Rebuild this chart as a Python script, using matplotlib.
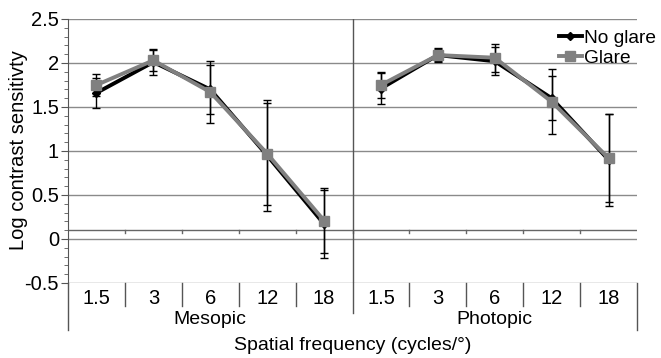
import matplotlib
matplotlib.use("Agg")
import matplotlib.pyplot as plt
from matplotlib.lines import Line2D
import numpy as np

plt.rcParams['font.family'] = ['Liberation Sans', 'DejaVu Sans']

freqs = ["1.5", "3", "6", "12", "18"]
groups = ["Mesopic", "Photopic"]

# values per group (Mesopic, Photopic)
no_glare = [[1.66, 2.01, 1.70, 0.95, 0.17],
            [1.71, 2.09, 2.02, 1.60, 0.90]]
no_glare_err = [[0.17, 0.15, 0.28, 0.63, 0.39],
                [0.18, 0.08, 0.16, 0.25, 0.52]]
glare = [[1.75, 2.03, 1.67, 0.97, 0.21],
         [1.75, 2.09, 2.06, 1.56, 0.92]]
glare_err = [[0.13, 0.12, 0.35, 0.58, 0.37],
             [0.15, 0.07, 0.16, 0.37, 0.50]]

W, H = 661, 358
fig = plt.figure(figsize=(W / 100, H / 100), dpi=100)
L, R, T, B = 68, 637, 19, 283
ax = fig.add_axes([L / W, 1 - B / H, (R - L) / W, (B - T) / H])

n = len(freqs)
ncat = n * len(groups)
ax.set_xlim(0, ncat)
ax.set_ylim(-0.5, 2.5)

gridc = '#8a8a8a'
for yv in np.arange(-0.5, 2.51, 0.5):
    ax.axhline(yv, color=gridc, lw=1.0, zorder=1)
# category axis line crossing at 0.1
ax.axhline(0.1, color='#666666', lw=1.0, zorder=1)
for k in range(1, ncat):
    ax.plot([k, k], [0.1, 0.1 - 0.035], color='#666666', lw=1.0, zorder=1)

# group divider
ax.plot([n, n], [0, 1], transform=ax.get_xaxis_transform(), color='#555555', lw=1.0,
        zorder=1)

for g in range(len(groups)):
    xs = np.arange(n) + g * n + 0.5
    ax.errorbar(xs, no_glare[g], yerr=no_glare_err[g], fmt='none', ecolor='black',
                elinewidth=1.0, capsize=3, capthick=1.0, zorder=3)
    ax.errorbar(xs, glare[g], yerr=glare_err[g], fmt='none', ecolor='black',
                elinewidth=1.0, capsize=3, capthick=1.0, zorder=3)
    ax.plot(xs, no_glare[g], color='black', lw=2.8, marker='D', ms=4.5,
            mfc='black', mec='black', zorder=4)
    ax.plot(xs, glare[g], color='#808080', lw=2.8, marker='s', ms=7,
            mfc='#808080', mec='#808080', zorder=5)

for s in ['top', 'right', 'bottom']:
    ax.spines[s].set_visible(False)
ax.spines['left'].set_color('#555555')

ax.set_xticks([])
ax.set_yticks(np.arange(-0.5, 2.51, 0.5))
ax.set_yticklabels(['-0.5', '0', '0.5', '1', '1.5', '2', '2.5'])
ax.set_yticks(np.arange(-0.5, 2.51, 0.1), minor=True)
ax.tick_params(axis='y', which='major', direction='out', length=5, color='#555555',
               labelsize=14.5, pad=1.5)
ax.tick_params(axis='y', which='minor', direction='out', length=3, color='#555555')

# multi-level category labels below the plot
trans = ax.get_xaxis_transform()
ah = B - T
def yfrac(px):
    return -(px - B) / ah

for g in range(len(groups)):
    for i, f in enumerate(freqs):
        ax.text(g * n + i + 0.5, yfrac(298), f, transform=trans, ha='center',
                va='center', fontsize=14.5, clip_on=False)
    ax.text(g * n + n / 2, yfrac(320), groups[g], transform=trans, ha='center',
            va='center', fontsize=14, clip_on=False)
for k in range(1, ncat):
    if k == n:
        continue
    ax.add_line(Line2D([k, k], [0, yfrac(306)], transform=trans, color='#555555',
                       lw=1.0, clip_on=False))
ax.add_line(Line2D([n, n], [0, yfrac(313)], transform=trans, color='#555555',
                   lw=1.0, clip_on=False))
for k in [0, ncat]:
    ax.add_line(Line2D([k, k], [0, yfrac(330)], transform=trans, color='#555555',
                       lw=1.0, clip_on=False))

fig.text(353 / W, 1 - 345 / H, 'Spatial frequency (cycles/°)', ha='center',
         va='center', fontsize=14)
fig.text(19 / W, 1 - 150 / H, 'Log contrast sensitivty', ha='center', va='center',
         rotation=90, fontsize=14.5)

handles = [Line2D([], [], color='black', lw=2.8, marker='D', ms=4.5),
           Line2D([], [], color='#808080', lw=2.8, marker='s', ms=7)]
fig.legend(handles, ['No glare', 'Glare'], loc='upper right',
           bbox_to_anchor=(1 + 8 / W, 1 - 16 / H), frameon=False, fontsize=13.8,
           handlelength=1.2, handletextpad=0.1, labelspacing=0.12, borderpad=0.2)

fig.savefig('out.png', dpi=100)
